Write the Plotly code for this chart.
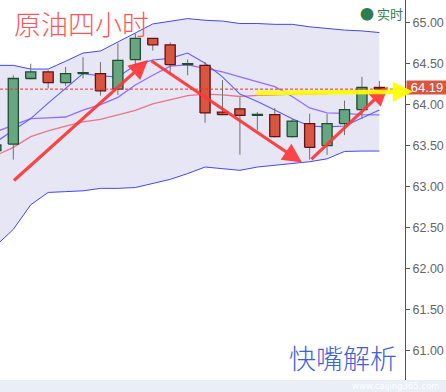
import plotly.graph_objects as go

# ---------------- data ----------------
idx = list(range(23))
opens  = [63.44, 63.52, 64.32, 64.40, 64.27, 64.38, 64.38, 64.19, 64.55, 64.81, 64.73, 64.49,
          64.48, 63.91, 63.95, 63.87, 63.88, 63.61, 63.77, 63.50, 63.77, 63.94, 64.21]
highs  = [63.56, 64.36, 64.50, 64.42, 64.46, 64.58, 64.52, 64.75, 64.87, 64.81, 64.76, 64.55,
          64.52, 64.30, 64.09, 63.91, 63.96, 63.83, 63.89, 63.89, 64.05, 64.34, 64.29]
lows   = [63.38, 63.33, 64.31, 64.20, 64.23, 64.32, 64.11, 64.12, 64.46, 64.66, 64.36, 64.36,
          63.78, 63.88, 63.39, 63.69, 63.60, 63.60, 63.33, 63.39, 63.63, 63.83, 64.19]
closes = [63.51, 64.32, 64.40, 64.27, 64.38, 64.385, 64.17, 64.54, 64.81, 64.73, 64.49, 64.495,
          63.90, 63.88, 63.87, 63.875, 63.61, 63.80, 63.48, 63.77, 63.94, 64.21, 64.19]

boll_upper = [64.48, 64.48, 64.435, 64.435, 64.53, 64.63, 64.655, 64.77, 64.875, 64.985, 65.02, 65.05,
              65.03, 65.02, 64.99, 64.99, 64.98, 64.98, 64.95, 64.93, 64.91, 64.90, 64.88]
boll_lower = [62.28, 62.48, 62.78, 62.93, 62.94, 62.95, 62.98, 62.98, 62.99, 63.04, 63.09, 63.16,
              63.24, 63.22, 63.20, 63.24, 63.26, 63.28, 63.305, 63.34, 63.43, 63.435, 63.435]
boll_mid   = [63.38, 63.48, 63.61, 63.68, 63.74, 63.79, 63.82, 63.875, 63.93, 64.01, 64.06, 64.11,
              64.13, 64.12, 64.10, 64.115, 64.12, 64.13, 64.13, 64.135, 64.17, 64.17, 64.16]
ma5  = [63.545, 63.69, 63.83, 64.02, 64.20, 64.38, 64.35, 64.34, 64.48, 64.545, 64.565, 64.63,
        64.505, 64.34, 64.13, 64.04, 63.935, 63.83, 63.74, 63.73, 63.74, 63.84, 63.935]
ma10 = [63.67, 63.75, 63.83, 63.84, 63.85, 63.935, 64.00, 64.09, 64.24, 64.36, 64.47, 64.485,
        64.44, 64.40, 64.34, 64.28, 64.22, 64.10, 63.96, 63.90, 63.895, 63.88, 63.875]

last_price = 64.19
last_label = "64.19"
ytick_vals = [61.0, 61.5, 62.0, 62.5, 63.0, 63.5, 64.0, 64.5, 65.0]
ytick_text = ["61.00", "61.50", "62.00", "62.50", "63.00", "63.50", "64.00", "64.50", "65.00"]
title_text = "原油四小时"
legend_text = "实时"
watermark_text = "快嘴解析"
site_text = "www.caijing365.com"

# ---------------- styles ----------------
BAND = "#4545ff"
FILL = "#e6e6f4"
GREEN_FILL = "#67a681"
GREEN_LINE = "#1f4d30"
RED_FILL = "#d9553f"
RED_LINE = "#5e1414"
WICK = "#707070"
HALF = 0.29

fig = go.Figure()

fig.add_trace(go.Scatter(x=idx, y=boll_upper, mode="lines", line=dict(color=BAND, width=1)))
fig.add_trace(go.Scatter(x=idx, y=boll_lower, mode="lines", line=dict(color=BAND, width=1),
                         fill="tonexty", fillcolor=FILL))
fig.add_trace(go.Scatter(x=idx, y=boll_mid, mode="lines",
                         line=dict(color="rgba(236,80,100,0.75)", width=1.3)))
fig.add_trace(go.Scatter(x=idx, y=ma10, mode="lines",
                         line=dict(color="rgba(140,95,255,0.9)", width=1.3)))
fig.add_trace(go.Scatter(x=idx, y=ma5, mode="lines",
                         line=dict(color="rgba(80,80,255,0.9)", width=1.1)))

# wicks
wx, wy = [], []
for i, h, l in zip(idx, highs, lows):
    wx += [i, i, None]
    wy += [l, h, None]
fig.add_trace(go.Scatter(x=wx, y=wy, mode="lines", line=dict(color=WICK, width=1)))

# bodies
def bodies(up):
    bx, by = [], []
    for i, o, c in zip(idx, opens, closes):
        if (c >= o) != up:
            continue
        lo, hi = min(o, c), max(o, c)
        if hi - lo < 0.012:
            hi = lo + 0.012
        bx += [i - HALF, i + HALF, i + HALF, i - HALF, i - HALF, None]
        by += [lo, lo, hi, hi, lo, None]
    return bx, by

gx, gy = bodies(True)
rx, ry = bodies(False)
fig.add_trace(go.Scatter(x=gx, y=gy, mode="lines", fill="toself", fillcolor=GREEN_FILL,
                         line=dict(color=GREEN_LINE, width=1.3)))
fig.add_trace(go.Scatter(x=rx, y=ry, mode="lines", fill="toself", fillcolor=RED_FILL,
                         line=dict(color=RED_LINE, width=1.3)))

PLOT_W, PLOT_H = 405, 380

def px(xp):
    return xp / PLOT_W

def py(yp):
    return 1 - yp / PLOT_H

shapes = [
    dict(type="line", xref="paper", x0=0, x1=1, yref="y", y0=last_price, y1=last_price,
         line=dict(color="#e8332a", width=1, dash="3px,2px"), layer="above"),
    dict(type="rect", xref="paper", x0=-0.01, x1=1.12, yref="paper", y0=-0.05, y1=0,
         fillcolor="#e9eef7", line=dict(width=0)),
]

annotations = [
    dict(xref="paper", yref="paper", x=px(12), y=py(24), xanchor="left", yanchor="middle",
         text=title_text, showarrow=False,
         font=dict(family="Noto Sans CJK SC", size=27, color="#ff5757", weight=300)),
    dict(xref="paper", yref="paper", x=px(381), y=py(12.5), xanchor="center", yanchor="middle",
         text="<span style='font-size:14px'>●</span> " + legend_text, showarrow=False,
         font=dict(family="Noto Sans CJK SC", size=13, color="#2e7d4f")),
    dict(xref="paper", yref="paper", x=px(343), y=py(357), xanchor="center", yanchor="middle",
         text=watermark_text, showarrow=False,
         font=dict(family="Noto Sans CJK SC", size=27, color="#3d62dc", weight=300)),
    dict(xref="paper", yref="paper", x=px(396), y=py(386), xanchor="center", yanchor="middle",
         text=site_text, showarrow=False,
         font=dict(family="DejaVu Sans", size=8.5, color="#ffffff")),
    dict(xref="paper", yref="y", x=1, y=last_price, xanchor="left", yanchor="middle",
         text=last_label, showarrow=False, bgcolor="#d9553f", width=40, height=13,
         borderpad=0, yshift=2, xshift=1,
         font=dict(family="Liberation Sans", size=13, color="#ffffff")),
    # hand-drawn red arrows
    dict(x=8.73, y=64.545, ax=0.95, ay=63.06, xref="x", yref="y", axref="x", ayref="y",
         text="", showarrow=True, arrowhead=2, arrowsize=1.2, arrowwidth=3.2,
         arrowcolor="rgba(255,55,55,0.92)"),
    dict(x=17.56, y=63.295, ax=8.84, ay=64.545, xref="x", yref="y", axref="x", ayref="y",
         text="", showarrow=True, arrowhead=2, arrowsize=1.2, arrowwidth=3.2,
         arrowcolor="rgba(255,55,55,0.92)"),
    dict(x=22.5, y=64.22, ax=18.02, ay=63.32, xref="x", yref="y", axref="x", ayref="y",
         text="", showarrow=True, arrowhead=2, arrowsize=1.2, arrowwidth=3.2,
         arrowcolor="rgba(255,55,55,0.92)"),
    # yellow arrow
    dict(xref="paper", yref="y", x=px(413), y=64.16, ax=-158, ay=1.5,
         text="", showarrow=True, arrowhead=2, arrowsize=0.9, arrowwidth=4.5,
         arrowcolor="rgba(255,255,0,0.92)"),
]

fig.update_layout(
    width=446, height=392,
    margin=dict(l=0, r=41, t=0, b=12),
    paper_bgcolor="white", plot_bgcolor="white",
    showlegend=False, hovermode=False,
    shapes=shapes, annotations=annotations,
    xaxis=dict(visible=False, range=[0.237, 23.47]),
    yaxis=dict(side="right", range=[60.643, 65.277], tickvals=ytick_vals, ticktext=ytick_text,
               showgrid=False, zeroline=False, showline=True, linecolor="#555555", linewidth=1,
               ticks="outside", ticklen=4, tickcolor="#555555",
               tickfont=dict(family="Liberation Sans", size=12.5, color="#666666")),
)

fig.write_html("out.html", config={"displayModeBar": False, "staticPlot": True},
               post_script="document.body.style.margin='0';")
